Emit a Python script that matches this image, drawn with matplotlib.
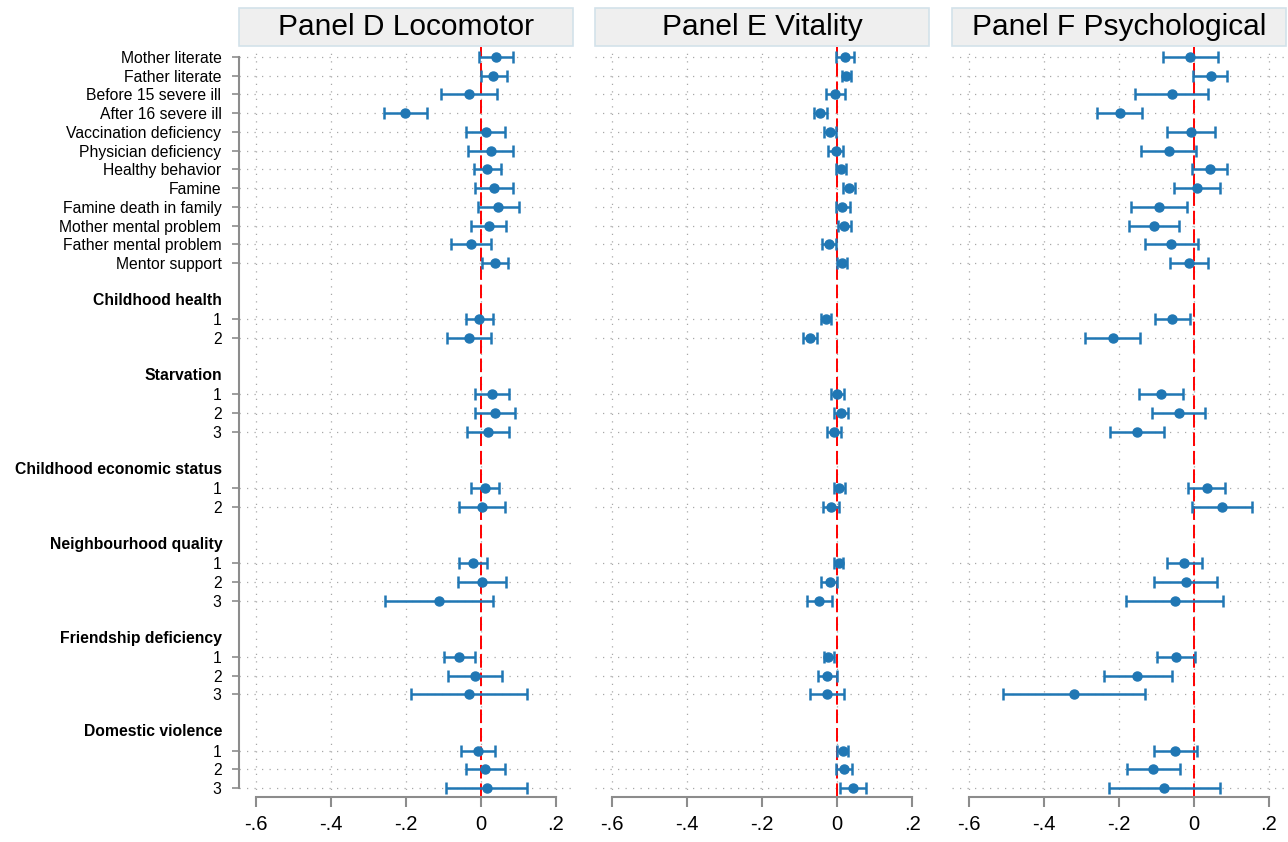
import matplotlib
matplotlib.use("Agg")
import matplotlib.pyplot as plt
from matplotlib.patches import Rectangle

plt.rcParams['font.family'] = ['Liberation Sans', 'DejaVu Sans']

# --- Data ---

single_vars = ["Mother literate", "Father literate", "Before 15 severe ill",
               "After 16 severe ill", "Vaccination deficiency", "Physician deficiency",
               "Healthy behavior", "Famine", "Famine death in family",
               "Mother mental problem", "Father mental problem", "Mentor support"]

group_names = ["Childhood health", "Starvation", "Childhood economic status",
               "Neighbourhood quality", "Friendship deficiency", "Domestic violence"]
group_levels = [["1", "2"], ["1", "2", "3"], ["1", "2"],
                ["1", "2", "3"], ["1", "2", "3"], ["1", "2", "3"]]

panel_titles = ["Panel D Locomotor", "Panel E Vitality", "Panel F Psychological"]

loco_est = [0.040, 0.034, -0.031, -0.201, 0.013, 0.027, 0.017, 0.035, 0.047, 0.021, -0.027, 0.038,
            -0.004, -0.032, 0.031, 0.037, 0.019, 0.012, 0.004,
            -0.020, 0.004, -0.112, -0.057, -0.015, -0.032, -0.008, 0.012, 0.016]
loco_lo = [-0.005, 0.000, -0.107, -0.259, -0.038, -0.034, -0.019, -0.015, -0.006, -0.025, -0.080, 0.004,
           -0.039, -0.091, -0.014, -0.015, -0.037, -0.026, -0.058,
           -0.057, -0.061, -0.256, -0.097, -0.087, -0.187, -0.052, -0.038, -0.092]
loco_hi = [0.085, 0.069, 0.043, -0.144, 0.066, 0.085, 0.054, 0.087, 0.101, 0.067, 0.027, 0.073,
           0.033, 0.027, 0.075, 0.091, 0.075, 0.048, 0.064,
           0.017, 0.067, 0.033, -0.016, 0.056, 0.123, 0.038, 0.064, 0.123]

vital_est = [0.020, 0.024, -0.005, -0.045, -0.019, -0.004, 0.011, 0.033, 0.014, 0.019, -0.022, 0.012,
             -0.030, -0.073, 0.001, 0.010, -0.009, 0.005, -0.017,
             0.004, -0.020, -0.048, -0.023, -0.026, -0.027, 0.015, 0.019, 0.043]
vital_lo = [-0.002, 0.012, -0.030, -0.061, -0.034, -0.024, -0.002, 0.017, -0.004, 0.002, -0.040, -0.001,
            -0.044, -0.092, -0.016, -0.009, -0.028, -0.007, -0.038,
            -0.009, -0.042, -0.080, -0.036, -0.050, -0.072, 0.001, -0.003, 0.009]
vital_hi = [0.044, 0.036, 0.020, -0.028, -0.002, 0.015, 0.024, 0.048, 0.034, 0.036, -0.004, 0.027,
            -0.017, -0.053, 0.019, 0.028, 0.010, 0.020, 0.005,
            0.017, 0.000, -0.014, -0.009, -0.001, 0.019, 0.028, 0.041, 0.076]

psych_est = [-0.011, 0.044, -0.060, -0.198, -0.008, -0.068, 0.042, 0.007, -0.093, -0.107, -0.061, -0.014,
             -0.059, -0.217, -0.087, -0.041, -0.153, 0.034, 0.075,
             -0.026, -0.022, -0.052, -0.049, -0.151, -0.320, -0.051, -0.109, -0.080]
psych_lo = [-0.083, -0.003, -0.158, -0.258, -0.072, -0.142, -0.005, -0.054, -0.169, -0.173, -0.132, -0.063,
            -0.105, -0.290, -0.146, -0.111, -0.223, -0.015, -0.005,
            -0.073, -0.108, -0.181, -0.099, -0.241, -0.510, -0.108, -0.179, -0.228]
psych_hi = [0.064, 0.089, 0.036, -0.139, 0.057, 0.004, 0.089, 0.068, -0.020, -0.040, 0.011, 0.036,
            -0.012, -0.145, -0.029, 0.028, -0.081, 0.082, 0.155,
            0.021, 0.062, 0.077, 0.002, -0.060, -0.130, 0.009, -0.038, 0.068]

x_ticks = [-0.6, -0.4, -0.2, 0.0, 0.2]
x_tick_labels = ["-.6", "-.4", "-.2", "0", ".2"]

panels = [(loco_est, loco_lo, loco_hi),
          (vital_est, vital_lo, vital_hi),
          (psych_est, psych_lo, psych_hi)]

# --- Row layout: single variables, then a blank row + bold header per group ---
row_pos, row_labels, header_pos = [], [], []
pos = 0
for name in single_vars:
    row_pos.append(pos)
    row_labels.append(name)
    pos += 1
for name, levels in zip(group_names, group_levels):
    pos += 1
    header_pos.append(pos)
    pos += 1
    for lev in levels:
        row_pos.append(pos)
        row_labels.append(lev)
        pos += 1
last_row = pos - 1

BLUE = "#2077b4"
GREY = "#8c8c8c"

fig = plt.figure(figsize=(12.88, 8.42), dpi=100)
W, H = 1288.0, 842.0
zero_px = [480.7, 837.0, 1194.0]
xmin, xmax = -0.645, 0.245
px_per_unit = 375.0
top_px, bot_px = 47.0, 797.0

for i, (est, lo, hi) in enumerate(panels):
    left_px = zero_px[i] + xmin * px_per_unit
    width_px = (xmax - xmin) * px_per_unit
    ax = fig.add_axes([left_px / W, 1 - bot_px / H, width_px / W, (bot_px - top_px) / H])

    ax.axvline(0, color="red", lw=1.4, linestyle=(0, (7, 2.5)), zorder=2)
    err_lo = [e - l for e, l in zip(est, lo)]
    err_hi = [h - e for e, h in zip(est, hi)]
    ax.errorbar(est, row_pos, xerr=[err_lo, err_hi], fmt="o", color=BLUE,
                ms=6.5, elinewidth=1.8, capsize=4, capthick=1.8, zorder=3)

    ax.set_xlim(xmin, xmax)
    ax.set_ylim(last_row + 0.47, -0.53)
    ax.set_xticks(x_ticks)
    ax.set_xticklabels(x_tick_labels, fontsize=14.5)
    ax.set_yticks(row_pos)

    ax.grid(True, color="#a8a8a8", linestyle=(0, (1, 5)), lw=0.9)
    ax.set_axisbelow(True)

    for side in ["top", "right"]:
        ax.spines[side].set_visible(False)
    ax.spines["bottom"].set_color(GREY)
    ax.spines["bottom"].set_linewidth(1.5)
    ax.spines["bottom"].set_bounds(-0.6, 0.2)
    ax.tick_params(axis="x", colors=GREY, labelcolor="black", length=7, width=1.5, pad=6)

    if i == 0:
        ax.spines["left"].set_color(GREY)
        ax.spines["left"].set_linewidth(1.5)
        ax.spines["left"].set_bounds(0, last_row)
        ax.set_yticklabels(row_labels, fontsize=11.3)
        ax.tick_params(axis="y", colors=GREY, labelcolor="black", length=5, width=1.2, pad=7.5)
        for name, hp in zip(group_names, header_pos):
            ax.text(-0.05, hp, name, transform=ax.get_yaxis_transform(),
                    ha="right", va="center", fontsize=11.3, fontweight="bold")
    else:
        ax.spines["left"].set_visible(False)
        ax.tick_params(axis="y", left=False, labelleft=False)

    # panel header strip
    ax.add_patch(Rectangle((0, 1.001), 1, 0.0507, transform=ax.transAxes,
                           facecolor="#efefef", edgecolor="#d3e2ea", lw=1.2, clip_on=False))
    ax.text(0.5, 1.027, panel_titles[i], transform=ax.transAxes,
            ha="center", va="center", fontsize=21.5)

fig.savefig("out.png", dpi=100)
